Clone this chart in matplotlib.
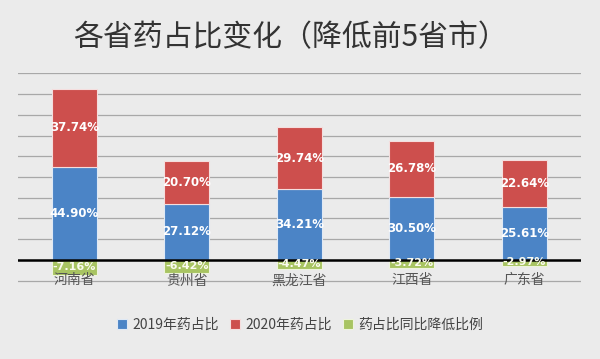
import matplotlib
matplotlib.use("Agg")
import matplotlib.pyplot as plt
import numpy as np

plt.rcParams['font.family'] = ['Noto Sans CJK SC', 'DejaVu Sans']

categories = ["河南省", "贵州省", "黑龙江省", "江西省", "广东省"]
share_2019 = [44.90, 27.12, 34.21, 30.50, 25.61]
share_2020 = [37.74, 20.70, 29.74, 26.78, 22.64]
decline = [-7.16, -6.42, -4.47, -3.72, -2.97]
series_names = ["2019年药占比", "2020年药占比", "药占比同比降低比例"]
title = "各省药占比变化（降低前5省市）"

c_blue = "#4b84c6"
c_red = "#cd4f4d"
c_green = "#a8c462"
bg = "#ebebeb"

fig = plt.figure(figsize=(6.0, 3.59), dpi=100, facecolor=bg)
ax = fig.add_axes([0.03, 0.2125, 0.9375, 0.585])
ax.set_facecolor(bg)

x = np.arange(len(categories))
w = 0.4
b1 = ax.bar(x, share_2019, w, color=c_blue, edgecolor="#dfe9f5", linewidth=0.8,
            label=series_names[0], zorder=3)
b2 = ax.bar(x, share_2020, w, bottom=share_2019, color=c_red, edgecolor="#f5dede",
            linewidth=0.8, label=series_names[1], zorder=3)
b3 = ax.bar(x, decline, w, color=c_green, edgecolor="#eef4dd", linewidth=0.8,
            label=series_names[2], zorder=3)

for i in range(len(categories)):
    ax.text(x[i], share_2019[i] / 2, f"{share_2019[i]:.2f}%", ha="center", va="center",
            color="white", fontsize=8.5, fontweight="bold", family="DejaVu Sans", zorder=5)
    ax.text(x[i], share_2019[i] + share_2020[i] / 2, f"{share_2020[i]:.2f}%", ha="center",
            va="center", color="white", fontsize=8.5, fontweight="bold", family="DejaVu Sans", zorder=5)
    ax.text(x[i], decline[i] / 2 + 0.4, f"{decline[i]:.2f}%", ha="center", va="center",
            color="#fbfbef", fontsize=8, fontweight="bold", family="DejaVu Sans", zorder=5)
    ax.text(x[i], -9.9, categories[i], ha="center", va="center", color="#555555",
            fontsize=10, zorder=6)

ax.set_xlim(-0.5, 4.5)
ax.set_ylim(-11, 90.3)
ax.set_yticks(np.arange(-10, 91, 10))
ax.yaxis.grid(True, color="#a8a8a8", linewidth=0.9, zorder=0)
ax.set_axisbelow(True)
ax.axhline(0, color="black", linewidth=1.8, zorder=4)
ax.set_xticks([])
ax.tick_params(left=False, labelleft=False)
for s in ax.spines.values():
    s.set_visible(False)

fig.text(0.484, 0.895, title, ha="center", va="center", fontsize=21.5, color="#333333")

fig.legend(handles=[b1, b2, b3], labels=series_names, loc="center", bbox_to_anchor=(0.5, 0.095),
           ncol=3, frameon=False, fontsize=10, handlelength=0.7, handleheight=0.7,
           handletextpad=0.4, columnspacing=0.8, labelcolor="#444444")

fig.savefig("out.png", dpi=100, facecolor=bg)
